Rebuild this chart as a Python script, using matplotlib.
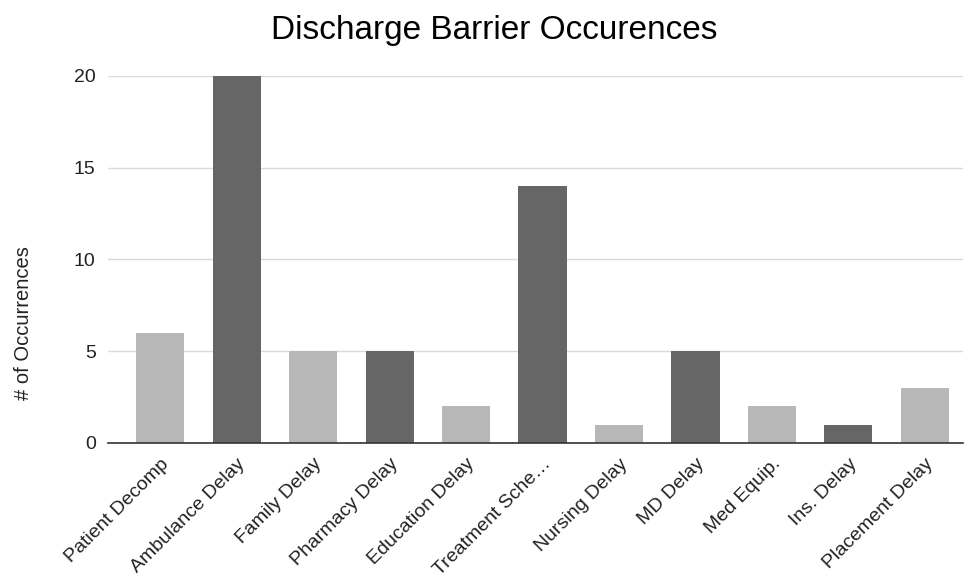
import matplotlib

matplotlib.use("Agg")
import matplotlib.pyplot as plt

categories = [
    "Patient Decomp", "Ambulance Delay", "Family Delay", "Pharmacy Delay",
    "Education Delay", "Treatment Sche…", "Nursing Delay", "MD Delay",
    "Med Equip.", "Ins. Delay", "Placement Delay",
]
occurrences = [6, 20, 5, 5, 2, 14, 1, 5, 2, 1, 3]
shade = ["light", "dark"] * 6

palette = {"light": "#b7b7b7", "dark": "#666666"}

plt.rcParams["font.family"] = ["Liberation Sans", "DejaVu Sans"]

fig = plt.figure(figsize=(9.66, 5.79), dpi=100)
ax = fig.add_axes([0.112, 0.235, 0.885, 0.634])

x = range(len(categories))
ax.bar(x, occurrences, width=0.63,
       color=[palette[s] for s in shade[:len(categories)]], zorder=3)

ax.set_xlim(-0.68, 10.5)
ax.set_ylim(0, 20)
ax.set_yticks([0, 5, 10, 15, 20])
ax.yaxis.grid(True, color="#d9d9d9", lw=1, zorder=0)
for side in ("top", "right", "left"):
    ax.spines[side].set_visible(False)
ax.spines["bottom"].set_color("#333333")
ax.spines["bottom"].set_linewidth(1.2)
ax.spines["bottom"].set_zorder(4)
ax.tick_params(axis="both", length=0, colors="#222222")
ax.tick_params(axis="y", labelsize=14, pad=9)
ax.tick_params(axis="x", labelsize=14, pad=9)

ax.set_xticks(list(x))
ax.set_xticklabels(categories, rotation=45, ha="right", rotation_mode="anchor")

# axis title sits lower than the plot centre, as in the source chart
fig.text(0.024, 0.442, "# of Occurrences", rotation=90, ha="center",
         va="center", fontsize=14.5, color="#222222")
fig.text(0.512, 0.948, "Discharge Barrier Occurences", ha="center",
         va="center", fontsize=24, color="#000000")

fig.savefig("out.png", dpi=100)
